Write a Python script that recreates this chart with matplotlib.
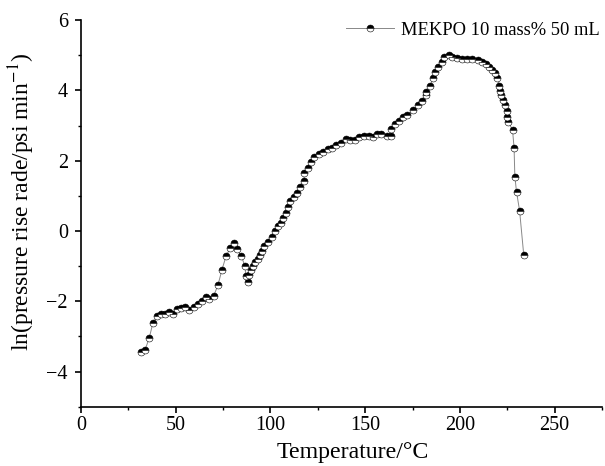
import numpy as np
import matplotlib
matplotlib.use("Agg")
import matplotlib.pyplot as plt
from matplotlib.ticker import MultipleLocator

plt.rcParams["font.family"] = ["Liberation Serif", "DejaVu Serif"]
plt.rcParams["mathtext.fontset"] = "stix"

# temperature (°C)
temp = [31.7, 33.8, 36.0, 37.9, 40.0, 42.1, 44.3, 46.4, 48.7, 50.8,
        52.9, 55.0, 57.1, 59.4, 61.5, 63.6, 65.7, 67.8, 70.0, 72.3,
        74.4, 76.5, 78.8, 80.9, 82.3, 84.6, 86.5, 87.0, 87.9, 88.8,
        89.7, 91.0, 92.0, 93.2, 94.3, 95.6, 96.8, 98.5, 100.6, 102.6,
        103.8, 105.6, 106.5, 108.4, 109.1, 110.5, 112.3, 114.1, 115.4, 117.6,
        117.9, 119.7, 121.5, 123.2, 125.5, 127.8, 130.2, 132.6, 134.8, 137.3,
        139.6, 141.9, 144.4, 146.6, 149.3, 151.9, 154.3, 156.4, 158.5, 161.3,
        163.4, 163.8, 165.5, 167.8, 170.1, 172.2, 175.4, 177.8, 180.2, 181.9,
        182.3, 184.2, 185.8, 186.7, 188.4, 190.7, 191.6, 194.2, 196.0, 198.7,
        201.3, 204.0, 206.6, 209.3, 211.9, 213.6, 215.4, 217.2, 218.4, 219.8,
        220.7, 221.2, 221.9, 223.0, 223.8, 224.7, 225.1, 225.6, 227.8, 228.6,
        229.0, 229.9, 231.5, 233.7]

# ln(pressure rise rate)
ln_rate = [-3.43, -3.38, -3.04, -2.62, -2.43, -2.35, -2.36, -2.30, -2.36, -2.22,
           -2.19, -2.16, -2.24, -2.16, -2.08, -1.98, -1.89, -1.93, -1.85, -1.53,
           -1.10, -0.72, -0.47, -0.33, -0.51, -0.72, -0.99, -1.29, -1.45, -1.26,
           -1.10, -0.99, -0.89, -0.80, -0.68, -0.58, -0.44, -0.30, -0.16, 0.01,
           0.13, 0.22, 0.38, 0.51, 0.68, 0.86, 0.98, 1.08, 1.24, 1.43,
           1.64, 1.80, 1.97, 2.10, 2.18, 2.26, 2.33, 2.36, 2.45, 2.50,
           2.61, 2.59, 2.59, 2.67, 2.69, 2.70, 2.67, 2.75, 2.75, 2.69,
           2.70, 2.89, 3.04, 3.14, 3.24, 3.30, 3.44, 3.59, 3.71, 3.87,
           3.96, 4.11, 4.34, 4.53, 4.66, 4.82, 4.94, 5.01, 4.94, 4.91,
           4.89, 4.88, 4.88, 4.86, 4.82, 4.75, 4.67, 4.58, 4.49, 4.34,
           4.13, 3.99, 3.87, 3.73, 3.59, 3.42, 3.25, 3.11, 2.86, 2.36,
           1.55, 1.11, 0.58, -0.68]

label = "MEKPO 10 mass% 50 mL"

fig = plt.figure(figsize=(6.05, 4.66), dpi=100)
ax = fig.add_axes([0.134, 0.127, 0.861, 0.830])

ax.plot(temp, ln_rate, color="#888888", linewidth=0.7,
        marker="o", markersize=5, fillstyle="top",
        markerfacecolor="black", markerfacecoloralt="white",
        markeredgecolor="black", markeredgewidth=0.4, label=label)

ax.set_xlim(0, 275)
ax.set_ylim(-5, 6)
ax.xaxis.set_major_locator(MultipleLocator(50))
ax.xaxis.set_minor_locator(MultipleLocator(25))
ax.yaxis.set_major_locator(MultipleLocator(2))
ax.yaxis.set_minor_locator(MultipleLocator(1))

ax.spines["top"].set_visible(False)
ax.spines["right"].set_visible(False)
ax.spines["left"].set_linewidth(1.2)
ax.spines["bottom"].set_linewidth(1.2)
ax.tick_params(which="major", direction="out", length=4.5, width=1.2,
               labelsize=14.5)
ax.tick_params(axis="x", which="major", pad=2)
ax.tick_params(axis="y", which="major", pad=5)
ax.tick_params(which="minor", direction="out", length=2.5, width=1.0)

ax.set_xlabel("Temperature/°C", fontsize=17.2)
ax.set_ylabel("ln(pressure rise rade/psi min$^{-1}$)", fontsize=17)
ax.xaxis.set_label_coords(0.522, -0.091)
ax.yaxis.set_label_coords(-0.084, 0.53)

ax.legend(loc="upper right", frameon=False, fontsize=13.3,
          handlelength=2.6, handletextpad=0.38, borderaxespad=0.0,
          borderpad=0.1)

fig.savefig("out.png", dpi=100)
